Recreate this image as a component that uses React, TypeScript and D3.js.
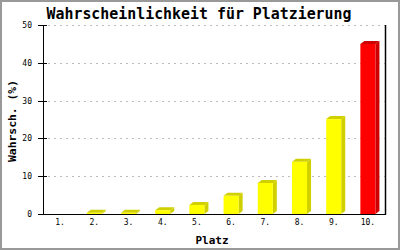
import React from "react";
import * as d3 from "d3";

const categories = ["1.", "2.", "3.", "4.", "5.", "6.", "7.", "8.", "9.", "10."];
const values = [0, 0.3, 0.3, 1.0, 2.4, 4.8, 8.2, 13.8, 25.1, 45.0];
const highlight = [false, false, false, false, false, false, false, false, false, true];
const yTicks = [0, 10, 20, 30, 40, 50];

const W = 400;
const H = 250;
const L = 43, R = 385, T = 25, B = 214;
const DX = 4, DY = 3;
const MONO = "'DejaVu Sans Mono', 'Liberation Mono', monospace";

export default function App() {
  const x = d3.scaleBand<string>().domain(categories).range([L, R]).paddingInner(0.56).paddingOuter(0.28);
  const y = d3.scaleLinear().domain([0, 50]).range([B, T]);
  const bw = x.bandwidth();

  return (
    <svg width={W} height={H} viewBox={`0 0 ${W} ${H}`} style={{ position: "absolute", left: 0, top: 0, background: "#fff" }}>
      <rect x={0} y={0} width={W} height={H} fill="#fff" />
      <rect x={1} y={1} width={W - 2} height={H - 2} fill="none" stroke="#999" strokeWidth={2} />
      <text x={199} y={18.5} textAnchor="middle" fontFamily={MONO} fontWeight="bold" fontSize={15} textLength={305} lengthAdjust="spacingAndGlyphs">
        Wahrscheinlichkeit für Platzierung
      </text>
      {/* gridlines */}
      {yTicks.filter((t) => t > 0).map((t) => (
        <line key={"g" + t} x1={48} x2={R} y1={Math.round(y(t)) + 0.5} y2={Math.round(y(t)) + 0.5} stroke="#bbb" strokeWidth={1} strokeDasharray="2,4" />
      ))}
      {/* bars */}
      {categories.map((c, i) => {
        const v = values[i];
        if (v <= 0) return null;
        const x0 = x(c)!;
        const y0 = y(v);
        const front = highlight[i] ? "#ff0000" : "#ffff00";
        const side = highlight[i] ? "#cc0000" : "#d0d000";
        return (
          <g key={c}>
            <polygon points={`${x0},${y0} ${x0 + DX},${y0 - DY} ${x0 + bw + DX},${y0 - DY} ${x0 + bw},${y0}`} fill={side} />
            <polygon points={`${x0 + bw},${y0} ${x0 + bw + DX},${y0 - DY} ${x0 + bw + DX},${B - DY} ${x0 + bw},${B}`} fill={side} />
            <rect x={x0} y={y0} width={bw} height={B - y0} fill={front} />
          </g>
        );
      })}
      {/* axes */}
      <line x1={L + 0.5} x2={L + 0.5} y1={T} y2={B + 0.5} stroke="#000" strokeWidth={1} />
      <line x1={R + 0.5} x2={R + 0.5} y1={T} y2={B + 0.5} stroke="#000" strokeWidth={1.5} />
      <line x1={L} x2={R + 1} y1={B + 0.5} y2={B + 0.5} stroke="#000" strokeWidth={1} />
      {yTicks.map((t) => (
        <g key={"t" + t}>
          <line x1={38} x2={t === 0 ? L : 47} y1={Math.round(y(t)) + 0.5} y2={Math.round(y(t)) + 0.5} stroke="#000" strokeWidth={1} />
          <text x={32} y={y(t) + 3} textAnchor="end" fontFamily={MONO} fontSize={8}>{t}</text>
        </g>
      ))}
      {categories.map((c) => (
        <text key={"x" + c} x={x(c)! + bw / 2} y={225} textAnchor="middle" fontFamily={MONO} fontSize={8}>{c}</text>
      ))}
      <text x={212} y={244} textAnchor="middle" fontFamily={MONO} fontWeight="bold" fontSize={11}>Platz</text>
      <text transform="translate(16,121) rotate(-90)" textAnchor="middle" fontFamily={MONO} fontWeight="bold" fontSize={11} textLength={82} lengthAdjust="spacingAndGlyphs">
        Wahrsch. (%)
      </text>
    </svg>
  );
}
